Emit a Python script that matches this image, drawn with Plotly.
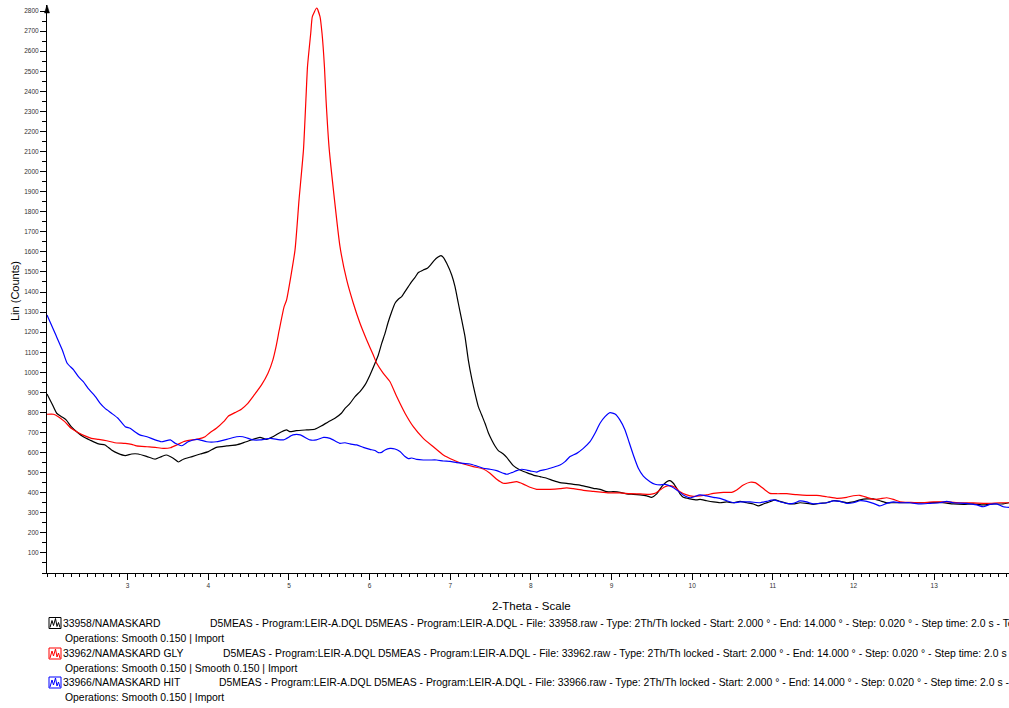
import plotly.graph_objects as go

# ---- scan 33958/NAMASKARD : 2-theta (deg) and smoothed counts ----
theta_33958 = [2.00, 2.06, 2.12, 2.18, 2.24, 2.30, 2.39, 2.45, 2.53, 2.64, 2.72, 2.80, 2.88, 2.97,
               3.05, 3.13, 3.24, 3.34, 3.42, 3.48, 3.57, 3.63, 3.69, 3.80, 3.90, 4.00, 4.10, 4.23,
               4.35, 4.47, 4.64, 4.72, 4.80, 4.91, 4.97, 5.01, 5.09, 5.22, 5.32, 5.40, 5.49, 5.57,
               5.65, 5.695, 5.757, 5.819, 5.881, 5.943, 6.005, 6.067, 6.108, 6.150, 6.191, 6.232,
               6.274, 6.315, 6.356, 6.398, 6.439, 6.480, 6.522, 6.563, 6.604, 6.666, 6.716, 6.757,
               6.799, 6.844, 6.885, 6.914, 6.956, 7.018, 7.059, 7.100, 7.142, 7.183, 7.224, 7.266,
               7.307, 7.348, 7.390, 7.431, 7.472, 7.514, 7.555, 7.596, 7.658, 7.700, 7.741, 7.782,
               7.865, 7.948, 8.030, 8.113, 8.196, 8.278, 8.361, 8.444, 8.526, 8.609, 8.691, 8.774,
               8.857, 8.940, 9.022, 9.105, 9.188, 9.270, 9.353, 9.436, 9.497, 9.560, 9.622, 9.684,
               9.725, 9.766, 9.808, 9.849, 9.890, 9.973, 10.056, 10.097, 10.180, 10.262, 10.345,
               10.428, 10.510, 10.593, 10.676, 10.758, 10.820, 10.882, 10.965, 11.027, 11.089,
               11.172, 11.254, 11.337, 11.420, 11.502, 11.585, 11.668, 11.750, 11.833, 11.916,
               11.998, 12.081, 12.164, 12.246, 12.329, 12.412, 12.494, 12.577, 12.742, 12.907,
               13.073, 13.238, 13.362, 13.486, 13.610, 13.734, 13.858, 13.928]
counts_33958 = [892, 845, 796, 779, 762, 729, 696, 679, 663, 643, 638, 613, 596, 585,
                593, 593, 580, 567, 580, 588, 571, 553, 567, 580, 593, 605, 626, 633,
                638, 654, 676, 666, 679, 704, 713, 704, 709, 713, 716, 732, 754, 771,
                796, 820, 845, 879, 904, 937, 987, 1045, 1086, 1144, 1194, 1252,
                1302, 1344, 1364, 1377, 1402, 1427, 1452, 1473, 1497, 1510, 1518, 1535,
                1556, 1573, 1581, 1573, 1543, 1485, 1427, 1344, 1261, 1178, 1061, 970,
                895, 829, 787, 746, 699, 663, 633, 610, 593, 576, 555, 535,
                513, 500, 488, 480, 472, 460, 450, 447, 442, 438, 430, 422,
                417, 405, 405, 402, 394, 392, 389, 384, 377, 394, 430, 455,
                460, 447, 422, 394, 377, 369, 364, 367, 360, 354, 350,
                354, 350, 357, 350, 344, 334, 344, 355, 364, 357,
                347, 344, 350, 347, 342, 347, 350, 360, 357, 350,
                354, 364, 369, 369, 360, 350, 350, 350, 350, 350,
                352, 344, 342, 344, 339, 344, 344, 350]

# ---- scan 33962/NAMASKARD GLY ----
theta_33962 = [2.00, 2.08, 2.14, 2.22, 2.30, 2.39, 2.47, 2.55, 2.64, 2.74, 2.84, 2.97, 3.05, 3.11,
               3.24, 3.34, 3.44, 3.53, 3.61, 3.69, 3.80, 3.88, 3.96, 4.02, 4.10, 4.19, 4.25, 4.33,
               4.41, 4.49, 4.57, 4.66, 4.74, 4.80, 4.84, 4.88, 4.94, 4.97, 5.075, 5.125, 5.18,
               5.21, 5.23, 5.27, 5.29, 5.344, 5.385, 5.41, 5.44, 5.46, 5.50, 5.633, 5.716, 5.798,
               5.881, 5.964, 6.046, 6.088, 6.170, 6.253, 6.336, 6.439, 6.542, 6.666, 6.790, 6.914,
               7.038, 7.162, 7.286, 7.410, 7.493, 7.576, 7.658, 7.741, 7.824, 7.906, 7.989, 8.072,
               8.237, 8.361, 8.444, 8.526, 8.650, 8.774, 8.898, 8.981, 9.105, 9.229, 9.353, 9.477,
               9.539, 9.601, 9.663, 9.725, 9.787, 9.849, 9.932, 10.014, 10.097, 10.180, 10.262,
               10.386, 10.490, 10.552, 10.634, 10.717, 10.779, 10.841, 10.903, 10.965, 11.048,
               11.172, 11.296, 11.420, 11.544, 11.668, 11.792, 11.916, 11.998, 12.081, 12.164,
               12.246, 12.329, 12.412, 12.494, 12.577, 12.701, 12.825, 12.990, 13.156, 13.321,
               13.486, 13.652, 13.816, 13.928]
counts_33962 = [791, 791, 779, 754, 721, 699, 683, 671, 666, 659, 649, 646, 641, 633,
                629, 626, 621, 624, 638, 654, 663, 668, 679, 699, 721, 754, 782, 799,
                816, 845, 887, 937, 995, 1061, 1128, 1211, 1327, 1360, 1609, 1859, 2108,
                2357, 2523, 2689, 2772, 2815, 2772, 2689, 2523, 2357, 2108, 1626, 1460, 1344,
                1244, 1161, 1086, 1045, 995, 953, 879, 796, 729, 671, 629, 588,
                563, 543, 530, 518, 497, 467, 447, 450, 455, 443, 427, 417,
                417, 420, 424, 420, 412, 407, 402, 399, 399, 395, 394, 392,
                397, 414, 430, 435, 427, 405, 389, 382, 384, 389, 397,
                402, 402, 414, 438, 452, 450, 434, 414, 397, 395,
                395, 390, 387, 387, 380, 372, 377, 385, 387, 377,
                367, 370, 375, 367, 355, 352, 350, 354, 354, 350,
                349, 347, 350, 350]

# ---- scan 33966/NAMASKARD HIT ----
theta_33966 = [2.00, 2.10, 2.19, 2.25, 2.33, 2.39, 2.45, 2.51, 2.60, 2.66, 2.72, 2.80, 2.88, 2.97,
               3.03, 3.09, 3.15, 3.24, 3.34, 3.42, 3.53, 3.59, 3.67, 3.75, 3.86, 3.98, 4.10, 4.23,
               4.35, 4.43, 4.56, 4.64, 4.77, 4.93, 5.05, 5.14, 5.26, 5.34, 5.43, 5.51, 5.63, 5.695,
               5.757, 5.840, 5.922, 6.005, 6.067, 6.108, 6.150, 6.191, 6.253, 6.315, 6.377, 6.439,
               6.480, 6.522, 6.584, 6.666, 6.749, 6.832, 6.914, 6.997, 7.080, 7.162, 7.245, 7.328,
               7.410, 7.493, 7.576, 7.658, 7.700, 7.762, 7.824, 7.886, 7.948, 8.010, 8.072, 8.113,
               8.196, 8.278, 8.361, 8.423, 8.485, 8.568, 8.650, 8.733, 8.795, 8.857, 8.919, 8.981,
               9.043, 9.105, 9.167, 9.208, 9.270, 9.332, 9.394, 9.477, 9.539, 9.601, 9.663, 9.746,
               9.808, 9.890, 9.973, 10.097, 10.180, 10.262, 10.345, 10.428, 10.510, 10.593,
               10.717, 10.841, 10.924, 11.007, 11.089, 11.172, 11.254, 11.337, 11.420, 11.502,
               11.585, 11.668, 11.750, 11.833, 11.916, 11.998, 12.081, 12.164, 12.246, 12.329,
               12.412, 12.494, 12.577, 12.701, 12.825, 12.949, 13.073, 13.156, 13.238, 13.404,
               13.528, 13.610, 13.693, 13.776, 13.858, 13.928]
counts_33966 = [1286, 1194, 1111, 1045, 1012, 978, 953, 920, 879, 845, 820, 796, 771, 729,
                721, 704, 688, 679, 663, 654, 663, 646, 634, 654, 666, 654, 654, 666,
                679, 679, 663, 663, 671, 663, 688, 688, 663, 663, 676, 671, 646, 649,
                643, 638, 626, 616, 610, 600, 601, 613, 621, 618, 605, 580,
                570, 573, 566, 563, 563, 563, 558, 556, 550, 546, 543, 533,
                522, 517, 510, 497, 492, 500, 510, 517, 513, 507, 503, 510,
                517, 527, 538, 555, 580, 596, 621, 654, 696, 746, 779, 799,
                792, 762, 713, 663, 588, 522, 483, 455, 442, 439, 442, 430,
                414, 389, 375, 389, 384, 377, 372, 360, 350, 354,
                354, 350, 357, 364, 355, 347, 347, 359, 354, 344,
                347, 350, 359, 357, 347, 350, 360, 357, 347, 334,
                347, 354, 350, 350, 344, 347, 350, 357, 350, 347,
                339, 330, 342, 344, 330, 327]

SERIES = [
    ("33958/NAMASKARD", theta_33958, counts_33958, "#000000"),
    ("33962/NAMASKARD GLY", theta_33962, counts_33962, "#ff0000"),
    ("33966/NAMASKARD HIT", theta_33966, counts_33966, "#0000ff"),
]

X_TICKS = list(range(3, 14))
Y_TICKS = list(range(100, 2900, 100))

# ---- page geometry ----
W, H = 1009, 708
ML, MR, MT, MB = 47, 0, 5, 135
PLOT_W = W - ML - MR
PLOT_H = H - MT - MB


def paper_x(px):
    return (px - ML) / PLOT_W


def paper_y(py):
    return (H - MB - py) / PLOT_H


FONT = "Liberation Sans, Arial, Helvetica, sans-serif"

fig = go.Figure()
for name, xs, ys, color in SERIES:
    fig.add_trace(go.Scatter(
        x=xs, y=ys, mode="lines", name=name,
        line=dict(color=color, width=1.2, shape="spline", smoothing=0.5),
        showlegend=False, hoverinfo="skip",
    ))

axis_common = dict(
    showline=True, linecolor="black", linewidth=1,
    ticks="outside", tickcolor="black", tickwidth=1,
    showgrid=False, zeroline=False, fixedrange=True,
    tickfont=dict(family=FONT, size=6.5, color="#333333"),
)

fig.update_xaxes(
    range=[2, 13.928], tickmode="array", tickvals=X_TICKS,
    ticktext=[str(v) for v in X_TICKS], ticklen=6,
    minor=dict(tickmode="linear", tick0=2, dtick=0.1, ticklen=3,
               ticks="outside", tickcolor="black", showgrid=False),
    **axis_common,
)
fig.update_yaxes(
    range=[0, 2830], tickmode="array", tickvals=Y_TICKS,
    ticktext=[str(v) for v in Y_TICKS], ticklen=6,
    minor=dict(tickmode="linear", tick0=0, dtick=50, ticklen=4,
               ticks="outside", tickcolor="black", showgrid=False),
    **axis_common,
)

annotations = [
    dict(text="Lin (Counts)", x=paper_x(15), y=paper_y(291), textangle=-90,
         xanchor="center", font=dict(family=FONT, size=11, color="black")),
    dict(text="2-Theta - Scale", x=paper_x(531), y=paper_y(606), xanchor="center",
         font=dict(family=FONT, size=11.5, color="black")),
]

detail = ("D5MEAS - Program:LEIR-A.DQL D5MEAS - Program:LEIR-A.DQL - File: {f} - "
          "Type: 2Th/Th locked - Start: 2.000 ° - End: 14.000 ° - Step: 0.020 ° - "
          "Step time: 2.0 s - Temp.: 25 °C (Room)")
legend_rows = [
    ("33958/NAMASKARD", "33958.raw", 208.3, 623, "Operations: Smooth 0.150 | Import", 638),
    ("33962/NAMASKARD GLY", "33962.raw", 221.0, 653.5,
     "Operations: Smooth 0.150 | Smooth 0.150 | Import", 668),
    ("33966/NAMASKARD HIT", "33966.raw", 216.7, 682.5, "Operations: Smooth 0.150 | Import", 697),
]
legend_font = dict(family=FONT, size=10.4, color="black")
shapes = []
for (name, fname, dx, ry, ops, oy), (_, _, _, color) in zip(legend_rows, SERIES):
    annotations.append(dict(text=name, x=paper_x(61.3), y=paper_y(ry), xanchor="left",
                            font=legend_font))
    annotations.append(dict(text=detail.format(f=fname), x=paper_x(dx), y=paper_y(ry),
                            xanchor="left", font=legend_font))
    annotations.append(dict(text=ops, x=paper_x(62.7), y=paper_y(oy), xanchor="left",
                            font=legend_font))
    # small scan icon: framed box with a peak trace inside
    top = ry - 5.5
    shapes.append(dict(type="rect", xref="paper", yref="paper",
                       x0=paper_x(49), x1=paper_x(61), y0=paper_y(top + 11), y1=paper_y(top),
                       line=dict(color=color, width=1), fillcolor="white"))
    glyph = [(50, 10), (52, 3), (53.5, 8), (55.5, 1), (57, 9), (58.5, 5), (60, 10)]
    path = "M " + " L ".join(f"{paper_x(gx):.5f},{paper_y(top + gy):.5f}" for gx, gy in glyph)
    shapes.append(dict(type="path", xref="paper", yref="paper", path=path,
                       line=dict(color=color, width=1)))

# arrow head on top of the intensity axis
shapes.append(dict(type="path", xref="paper", yref="paper",
                   path=(f"M {paper_x(44.5):.5f},{paper_y(13):.5f} L {paper_x(49.5):.5f},{paper_y(13):.5f} "
                         f"L {paper_x(47):.5f},{paper_y(5):.5f} Z"),
                   fillcolor="black", line=dict(color="black", width=0.5)))

for a in annotations:
    a.setdefault("xref", "paper")
    a.setdefault("yref", "paper")
    a.setdefault("showarrow", False)
    a.setdefault("yanchor", "middle")

fig.update_layout(
    width=W, height=H,
    margin=dict(l=ML, r=MR, t=MT, b=MB, pad=0),
    paper_bgcolor="white", plot_bgcolor="white",
    annotations=annotations, shapes=shapes,
    showlegend=False,
)

fig.write_html("out.html", include_plotlyjs=True, config={"displayModeBar": False})
